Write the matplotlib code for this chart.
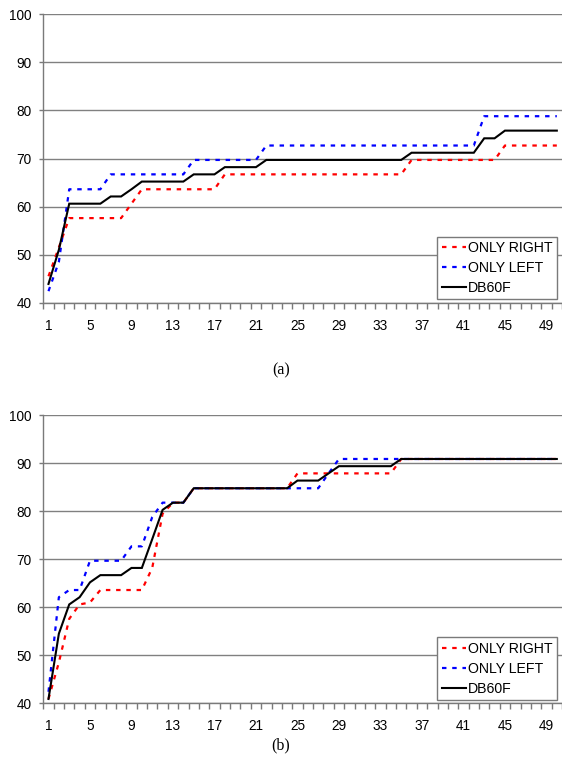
import matplotlib
matplotlib.use("Agg")
import matplotlib.pyplot as plt
from matplotlib.ticker import FixedLocator
import numpy as np

# ---------------- data ----------------
x_vals = list(range(1, 51))
x_tick_labels = [1, 5, 9, 13, 17, 21, 25, 29, 33, 37, 41, 45, 49]
y_ticks = [40, 50, 60, 70, 80, 90, 100]
series_names = ["ONLY RIGHT", "ONLY LEFT", "DB60F"]

# chart (a)
right_a = ([45.5, 51.5] + [57.6] * 6 + [60.6] + [63.6] * 8 + [66.7] * 18
           + [69.7] * 9 + [72.7] * 6)
left_a = ([42.4, 48.5] + [63.6] * 4 + [66.7] * 8 + [69.7] * 7 + [72.7] * 21
          + [78.8] * 8)
db_a = ([43.9, 51.0] + [60.6] * 4 + [62.1] * 2 + [63.6] + [65.2] * 5
        + [66.7] * 3 + [68.2] * 4 + [69.7] * 14 + [71.2] * 7 + [74.2] * 2
        + [75.8] * 6)

# chart (b)
right_b = ([40.9, 48.5, 57.6, 60.6, 61.0] + [63.6] * 5 + [68.2, 79.5, 81.8, 81.8]
           + [84.8] * 10 + [87.9] * 10 + [90.9] * 16)
left_b = ([42.4, 62.1, 63.6, 63.6] + [69.7] * 4 + [72.7] * 2 + [78.8]
          + [81.8] * 3 + [84.8] * 13 + [87.9] + [90.9] * 22)
db_b = ([40.9, 54.5, 60.6, 62.1, 65.2] + [66.7] * 3 + [68.2] * 2 + [74.2, 80.3]
        + [81.8] * 2 + [84.8] * 10 + [86.4] * 3 + [87.9] + [89.4] * 6
        + [90.9] * 16)

charts = [("(a)", right_a, left_a, db_a), ("(b)", right_b, left_b, db_b)]

# ---------------- figure ----------------
W, H = 562, 783
fig = plt.figure(figsize=(W / 100, H / 100), dpi=100)
plt.rcParams['font.family'] = ['Liberation Sans', 'DejaVu Sans']

axis_col = "#7a7a7a"
grid_col = "#808080"

# pixel boxes (left, top, right, bottom)
boxes = [(43.3, 14.3, 562.0, 302.7), (43.3, 415.3, 562.0, 703.3)]
caption_y = [370, 745]

for (cap, r, l, d), (x0, y0, x1, y1), cy in zip(charts, boxes, caption_y):
    ax = fig.add_axes([x0 / W, 1 - y1 / H, (x1 - x0) / W, (y1 - y0) / H])
    ax.set_xlim(0.5, 50.5)
    ax.set_ylim(40, 100)

    ax.plot(x_vals, r, color="#ff0000", lw=1.6, dashes=(2.0, 2.6),
            dash_capstyle="butt", label=series_names[0], zorder=3)
    ax.plot(x_vals, l, color="#0000ff", lw=1.6, dashes=(2.0, 2.6),
            dash_capstyle="butt", label=series_names[1], zorder=4)
    ax.plot(x_vals, d, color="#000000", lw=1.5, label=series_names[2],
            zorder=5, solid_joinstyle="miter")

    for s in ["top", "right"]:
        ax.spines[s].set_visible(False)
    for s in ["left", "bottom"]:
        ax.spines[s].set_color(axis_col)
        ax.spines[s].set_linewidth(1.0)

    ax.set_yticks(y_ticks)
    ax.yaxis.grid(True, color=grid_col, lw=1.0)
    ax.set_axisbelow(True)
    ax.tick_params(axis="y", direction="out", length=3, width=1.0,
                   color=axis_col, pad=5.5, labelsize=9.8, labelcolor="#000000")

    ax.xaxis.set_major_locator(FixedLocator(x_tick_labels))
    ax.set_xticklabels([str(v) for v in x_tick_labels])
    ax.xaxis.set_minor_locator(FixedLocator(np.arange(0.5, 51, 1.0)))
    ax.tick_params(axis="x", which="major", length=0, pad=11.5,
                   labelsize=9.8, labelcolor="#000000")
    ax.tick_params(axis="x", which="minor", direction="out", length=4,
                   width=1.0, color=axis_col)

    leg = ax.legend(loc="lower right", bbox_to_anchor=(1 - 5 / (x1 - x0), 3.5 / (y1 - y0)),
                    fontsize=10.2, frameon=True, fancybox=False, framealpha=1,
                    edgecolor=axis_col, borderpad=0.3, labelspacing=0.42,
                    handlelength=1.75, handletextpad=0.12, borderaxespad=0.0)
    leg.get_frame().set_linewidth(1.0)

    fig.text(0.5, 1 - cy / H, cap, ha="center", va="center",
             fontsize=11.5, family=["Liberation Serif", "DejaVu Serif"])

fig.savefig("out.png", dpi=100)
